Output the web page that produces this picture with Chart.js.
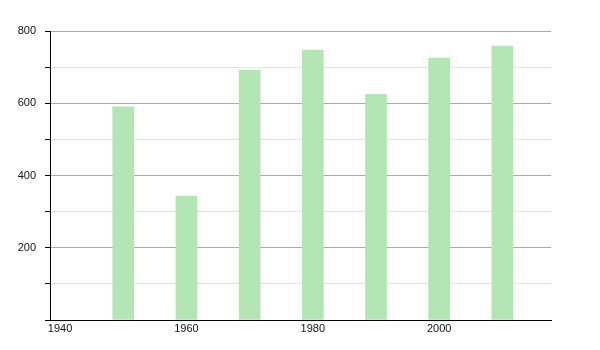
<!DOCTYPE html>
<html>
<head>
<meta charset="utf-8">
<script src="https://cdn.jsdelivr.net/npm/chart.js@4/dist/chart.umd.min.js"></script>
<style>
  html, body { margin: 0; padding: 0; background: #fff; }
  #wrap { width: 600px; height: 350px; }
</style>
</head>
<body>
<div id="wrap"><canvas id="popChart"></canvas></div>
<script>
// data
const years = [1950, 1960, 1970, 1980, 1990, 2000, 2010];
const population = [590, 343, 692, 747, 625, 725, 758];
const xTicks = [1940, 1960, 1980, 2000];
const yLabelled = [200, 400, 600, 800];

const ctx = document.getElementById("popChart").getContext("2d");
new Chart(ctx, {
  type: "bar",
  data: {
    datasets: [{
      data: years.map((y, i) => ({ x: y, y: population[i] })),
      backgroundColor: "#b3e6b3",
      borderWidth: 0,
      barThickness: 21
    }]
  },
  options: {
    responsive: true,
    maintainAspectRatio: false,
    animation: false,
    layout: { padding: { top: 31, right: 49, left: 0, bottom: 0 } },
    plugins: { legend: { display: false }, tooltip: { enabled: false } },
    scales: {
      x: {
        type: "linear",
        offset: false,
        min: 1938.4,
        max: 2017.7,
        afterBuildTicks: s => { s.ticks = xTicks.map(v => ({ value: v })); },
        afterFit: s => { s.height = 30; },
        grid: { display: false, offset: false, tickLength: 0 },
        border: { display: true, color: "#000", width: 1 },
        ticks: {
          padding: 2,
          color: "#111",
          font: { family: "Liberation Sans", size: 11 },
          callback: v => String(v)
        }
      },
      y: {
        min: 0,
        max: 800,
        afterFit: s => { s.width = 50; },
        border: { display: true, color: "#000", width: 1 },
        grid: {
          color: c => (c.tick && c.tick.value % 200 === 0) ? "#aaaaaa" : "#e2e2e2",
          tickColor: "#000",
          tickLength: 5
        },
        ticks: {
          stepSize: 100,
          padding: 9,
          color: "#111",
          font: { family: "Liberation Sans", size: 11 },
          callback: v => yLabelled.includes(v) ? String(v) : ""
        }
      }
    }
  }
});
</script>
</body>
</html>
